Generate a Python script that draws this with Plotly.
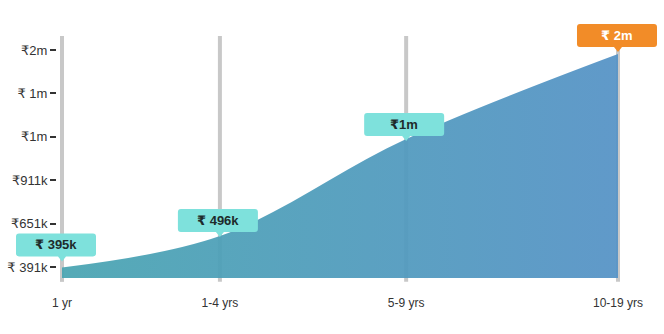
import numpy as np
import plotly.graph_objects as go

# ---------------- data ----------------
categories = ["1 yr", "1-4 yrs", "5-9 yrs", "10-19 yrs"]
tenure_scale = [0.0, 0.284, 0.619, 1.0]          # uneven spacing of the category axis
salary = [395000, 496000, 1000000, 1850000]
salary_labels = ["₹ 395k", "₹ 496k", "₹1m", "₹ 2m"]
ytick_labels = ["₹ 391k", "₹651k", "₹911k", "₹1m", "₹ 1m", "₹2m"]

# ---------------- style ----------------
X_RANGE = [-0.009, 1.0198]
Y_LOG_RANGE = [5.5636, 6.3235]
TICK_LOG_SPAN = (5.598, 6.2795)
tickvals = list(np.logspace(TICK_LOG_SPAN[0], TICK_LOG_SPAN[1], len(ytick_labels)))
box_lift_px = [11, 4, 3, 7]
box_dx_px = [-6, -2, -2, -1]
box_colors = ["#7ee1dc", "#7ee1dc", "#7ee1dc", "#f28c28"]
text_colors = ["#1e2b2b", "#1e2b2b", "#1e2b2b", "#ffffff"]
BOX_W, BOX_H, R = 80, 23, 3
FONT = "Liberation Sans, Arial, DejaVu Sans, sans-serif"


def to_paper_x(v):
    return (v - X_RANGE[0]) / (X_RANGE[1] - X_RANGE[0])


def to_paper_y(v):
    return (np.log10(v) - Y_LOG_RANGE[0]) / (Y_LOG_RANGE[1] - Y_LOG_RANGE[0])


fig = go.Figure()
fig.add_trace(go.Scatter(
    x=tenure_scale, y=salary, mode="lines",
    line=dict(width=0, shape="spline", smoothing=1),
    fill="tozeroy",
    fillgradient=dict(type="horizontal",
                      colorscale=[[0, "rgba(74,165,178,0.94)"], [1, "rgba(86,147,198,0.94)"]]),
    hoverinfo="skip", showlegend=False,
))

shapes = []
for xv in tenure_scale:
    shapes.append(dict(type="line", xref="x", yref="paper", x0=xv, x1=xv, y0=-0.016, y1=1,
                       line=dict(color="#c8c8c8", width=4), layer="below"))


def box_path(dx, lift):
    x0, x1 = dx - BOX_W / 2, dx + BOX_W / 2
    y0, y1 = lift, lift + BOX_H
    p = (f"M {x0+R},{y0} L {-4},{y0} L 0,{y0-5} L 4,{y0} L {x1-R},{y0} "
         f"Q {x1},{y0} {x1},{y0+R} L {x1},{y1-R} Q {x1},{y1} {x1-R},{y1} "
         f"L {x0+R},{y1} Q {x0},{y1} {x0},{y1-R} L {x0},{y0+R} Q {x0},{y0} {x0+R},{y0} Z")
    return p


annotations = []
for xv, yv, lab, lift, dx, bc, tc in zip(tenure_scale, salary, salary_labels,
                                         box_lift_px, box_dx_px, box_colors, text_colors):
    shapes.append(dict(type="path", xref="paper", yref="paper", xsizemode="pixel", ysizemode="pixel",
                       xanchor=to_paper_x(xv), yanchor=to_paper_y(yv), path=box_path(dx, lift),
                       fillcolor=bc, line=dict(width=0), layer="above"))
    annotations.append(dict(x=xv, y=np.log10(yv), xref="x", yref="y", text=f"<b>{lab}</b>",
                            showarrow=False, xshift=dx, yshift=lift + BOX_H / 2,
                            font=dict(family=FONT, size=13, color=tc)))

fig.update_layout(
    width=664, height=334,
    margin=dict(l=57, r=35, t=36, b=56, autoexpand=False),
    paper_bgcolor="white", plot_bgcolor="white",
    shapes=shapes, annotations=annotations,
    font=dict(family=FONT, color="#333333"),
    xaxis=dict(range=X_RANGE, tickvals=tenure_scale, ticktext=categories,
               showgrid=False, zeroline=False, showline=False, ticks="",
               automargin=False, ticklabelstandoff=16,
               tickfont=dict(size=12, color="#333333")),
    yaxis=dict(type="log", range=Y_LOG_RANGE, tickvals=tickvals, ticktext=ytick_labels,
               showgrid=False, zeroline=False, showline=False, ticks="outside",
               automargin=False, ticklen=6, tickwidth=2, tickcolor="#333333",
               tickfont=dict(size=13, color="#333333")),
)

fig.write_html("out.html")
